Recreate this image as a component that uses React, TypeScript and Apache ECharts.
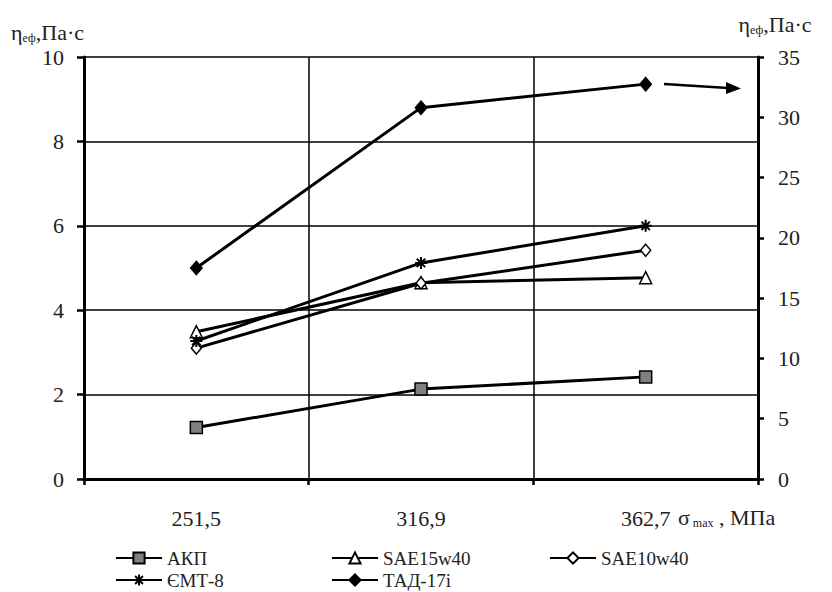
import React, { useEffect, useRef } from "react";
import * as echarts from "echarts";

const categories = ["251,5", "316,9", "362,7"];
const akp = [1.22, 2.13, 2.42];
const sae15w40 = [3.49, 4.65, 4.77];
const sae10w40 = [3.1, 4.64, 5.42];
const emt8 = [3.27, 5.12, 6.0];
const tad17i = [17.5, 30.8, 32.75];
const leftTicks = { min: 0, max: 10, interval: 2 };
const rightTicks = { min: 0, max: 35, interval: 5 };

const FONT = "Liberation Serif";
const FS = 22;
const asterisk = "path://M0,5L10,5M5,0L5,10M1.5,1.5L8.5,8.5M8.5,1.5L1.5,8.5";

export default function App() {
  const ref = useRef<HTMLDivElement>(null);
  useEffect(() => {
    const chart = echarts.init(ref.current!, null, { renderer: "svg" });
    const t = { fontFamily: FONT, fontSize: FS, color: "#222", lineHeight: 24 };
    const nameRich = {
      a: t,
      s: { fontFamily: FONT, fontSize: 12, color: "#222", lineHeight: 12, verticalAlign: "bottom" },
    };
    const lineBase = {
      type: "line",
      lineStyle: { color: "#000", width: 3 },
      itemStyle: { color: "#fff", borderColor: "#000", borderWidth: 1.5 },
      symbolKeepAspect: true,
    };
    const legendBase = {
      itemWidth: 46,
      itemHeight: 14,
      textStyle: { fontFamily: FONT, fontSize: 19, lineHeight: 20, color: "#222" },
      itemGap: 5,
      padding: 0,
    };
    chart.setOption({
      animation: false,
      backgroundColor: "#fff",
      textStyle: { fontFamily: FONT },
      grid: { left: 84, right: 74, top: 57, bottom: 113 },
      xAxis: {
        type: "category",
        data: categories,
        boundaryGap: true,
        name: "{a|σ}{s| max}{a| , МПа}",
        nameLocation: "end",
        nameGap: -80,
        nameTextStyle: { rich: nameRich, align: "left", verticalAlign: "top", padding: [26, 0, 0, 0] },
        axisLine: { lineStyle: { color: "#000", width: 3 } },
        axisTick: { show: true, length: 6, lineStyle: { color: "#000", width: 2.5 } },
        axisLabel: { margin: 28, fontFamily: FONT, fontSize: FS, color: "#222" },
        splitLine: { show: true, lineStyle: { color: "#000", width: 1.5 } },
      },
      yAxis: [
        {
          type: "value",
          ...leftTicks,
          position: "left",
          name: "{a|η}{s|еф}{a|,Па·с}",
          nameLocation: "end",
          nameGap: 13,
          nameTextStyle: { rich: nameRich, align: "right" },
          axisLine: { show: true, lineStyle: { color: "#000", width: 3 } },
          axisTick: { show: true, length: 7, lineStyle: { color: "#000", width: 2.5 } },
          axisLabel: { margin: 20, fontFamily: FONT, fontSize: FS, color: "#222" },
          splitLine: { show: true, lineStyle: { color: "#000", width: 1.5 } },
        },
        {
          type: "value",
          ...rightTicks,
          position: "right",
          name: "{a|η}{s|еф}{a|,Па·с}",
          nameLocation: "end",
          nameGap: 21,
          nameTextStyle: { rich: nameRich, align: "center", padding: [0, 0, 0, 34] },
          axisLine: { show: true, lineStyle: { color: "#000", width: 3 } },
          axisTick: { show: true, length: 6, lineStyle: { color: "#000", width: 2.5 } },
          axisLabel: { margin: 20, fontFamily: FONT, fontSize: FS, color: "#222" },
          splitLine: { show: false },
        },
      ],
      legend: [
        { ...legendBase, data: ["АКП"], left: 115, top: 548 },
        { ...legendBase, data: ["SAE15w40"], left: 331, top: 548 },
        { ...legendBase, data: ["SAE10w40"], left: 549, top: 548 },
        { ...legendBase, data: ["ЄМТ-8"], left: 115, top: 570 },
        { ...legendBase, data: ["ТАД-17і"], left: 331, top: 570 },
      ],
      series: [
        {
          ...lineBase,
          name: "АКП",
          data: akp,
          symbol: "rect",
          symbolSize: 12,
          itemStyle: { color: "#808080", borderColor: "#000", borderWidth: 1.5 },
        },
        { ...lineBase, name: "SAE15w40", data: sae15w40, symbol: "triangle", symbolSize: 12 },
        { ...lineBase, name: "SAE10w40", data: sae10w40, symbol: "diamond", symbolSize: [10, 12] },
        {
          ...lineBase,
          name: "ЄМТ-8",
          data: emt8,
          symbol: asterisk,
          symbolSize: 12,
          itemStyle: { color: "none", borderColor: "#000", borderWidth: 2 },
        },
        {
          ...lineBase,
          name: "ТАД-17і",
          data: tad17i,
          yAxisIndex: 1,
          symbol: "diamond",
          symbolSize: [12, 14],
          itemStyle: { color: "#000", borderColor: "#000", borderWidth: 1 },
        },
      ],
      graphic: [
        {
          type: "line",
          shape: { x1: 664, y1: 84, x2: 728, y2: 88 },
          style: { stroke: "#000", lineWidth: 2.5 },
        },
        {
          type: "polygon",
          shape: { points: [[726, 82], [741, 88.5], [726, 94]] },
          style: { fill: "#000" },
        },
      ],
    });
    return () => chart.dispose();
  }, []);
  return (
    <div
      ref={ref}
      style={{ position: "fixed", left: 0, top: 0, width: 832, height: 592 }}
    />
  );
}
